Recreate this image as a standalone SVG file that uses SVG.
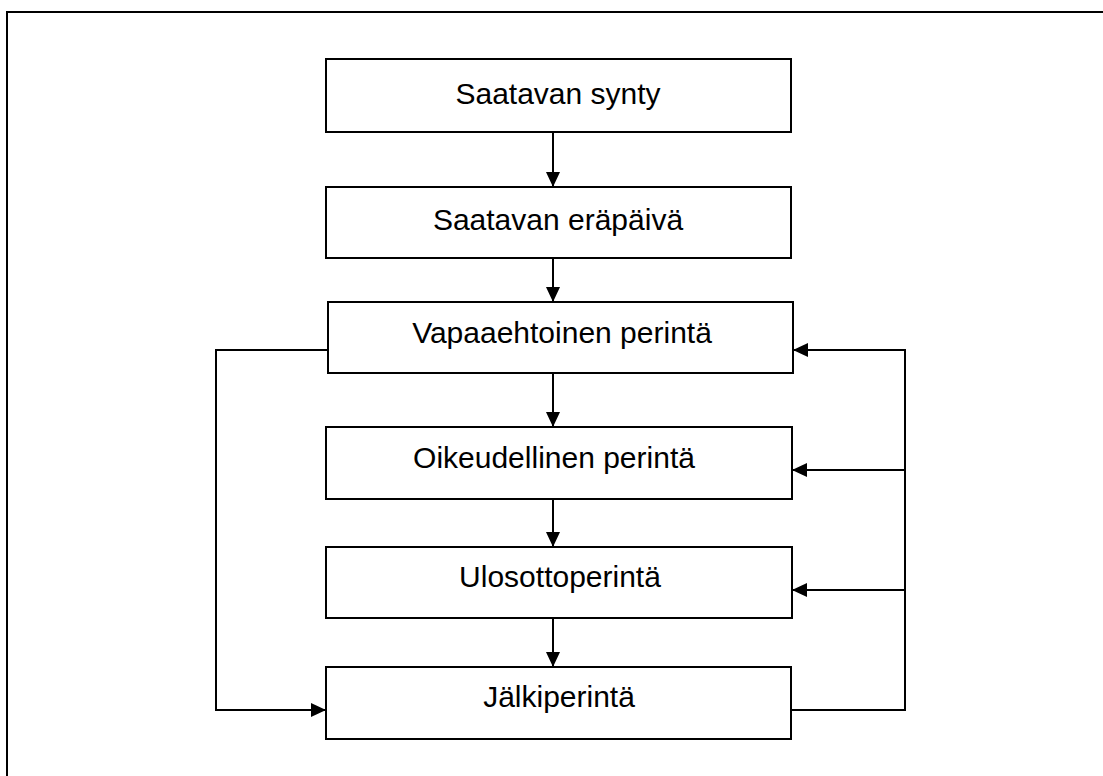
<svg xmlns="http://www.w3.org/2000/svg" width="1103" height="776" viewBox="0 0 1103 776">
<style>
.box{fill:#fff;stroke:#000;stroke-width:2}
.lbl{font-family:"Liberation Sans",Arial,sans-serif;font-size:30px;fill:#000;text-anchor:middle}
.ln{fill:none;stroke:#000;stroke-width:2}
</style>
<defs>
<marker id="ah" viewBox="0 0 15 14" refX="15" refY="7" markerWidth="15" markerHeight="14" markerUnits="userSpaceOnUse" orient="auto">
<path d="M0,0 L15,7 L0,14 Z" fill="#000"/>
</marker>
</defs>
<rect x="7" y="12" width="1110" height="780" fill="#fff" stroke="#000" stroke-width="2"/>
<g id="connectors">
<line class="ln" x1="553" y1="132" x2="553" y2="187" marker-end="url(#ah)"/>
<line class="ln" x1="553" y1="258" x2="553" y2="302" marker-end="url(#ah)"/>
<line class="ln" x1="553" y1="373" x2="553" y2="427" marker-end="url(#ah)"/>
<line class="ln" x1="553" y1="499" x2="553" y2="547" marker-end="url(#ah)"/>
<line class="ln" x1="553" y1="618" x2="553" y2="667" marker-end="url(#ah)"/>
<polyline class="ln" points="328,350 216,350 216,710 326,710" marker-end="url(#ah)"/>
<polyline class="ln" points="791,710 905,710 905,350 793,350" marker-end="url(#ah)"/>
<line class="ln" x1="905" y1="470" x2="792" y2="470" marker-end="url(#ah)"/>
<line class="ln" x1="905" y1="590" x2="792" y2="590" marker-end="url(#ah)"/>
</g>
<g id="n1"><rect class="box" x="326" y="59" width="465" height="73"/><text class="lbl" x="558" y="104">Saatavan synty</text></g>
<g id="n2"><rect class="box" x="326" y="187" width="465" height="71"/><text class="lbl" x="558" y="230">Saatavan eräpäivä</text></g>
<g id="n3"><rect class="box" x="328" y="302" width="465" height="71"/><text class="lbl" x="562" y="343">Vapaaehtoinen perintä</text></g>
<g id="n4"><rect class="box" x="326" y="427" width="466" height="72"/><text class="lbl" x="554" y="468">Oikeudellinen perintä</text></g>
<g id="n5"><rect class="box" x="326" y="547" width="466" height="71"/><text class="lbl" x="560" y="587">Ulosottoperintä</text></g>
<g id="n6"><rect class="box" x="326" y="667" width="465" height="72"/><text class="lbl" x="559" y="707">Jälkiperintä</text></g>
</svg>
